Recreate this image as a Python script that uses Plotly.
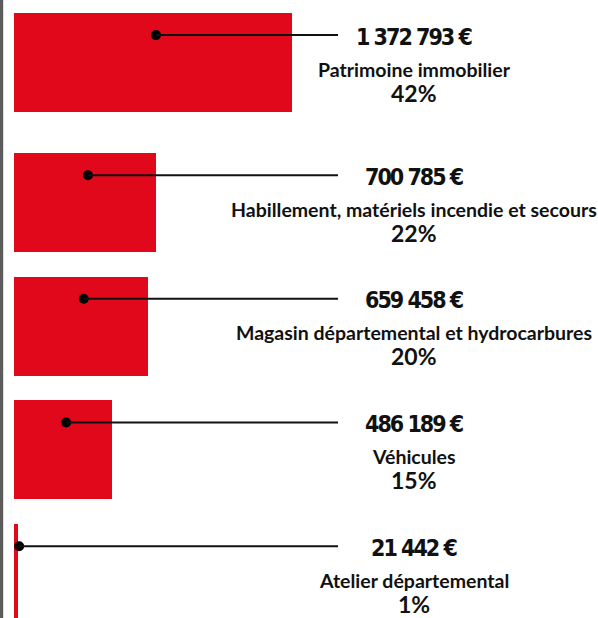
import plotly.graph_objects as go

# Budget lines, amounts in euros, and their share of the total
categories = [
    "Patrimoine immobilier",
    "Habillement, matériels incendie et secours",
    "Magasin départemental et hydrocarbures",
    "Véhicules",
    "Atelier départemental",
]
amounts = [1372793, 700785, 659458, 486189, 21442]
shares = ["42%", "22%", "20%", "15%", "1%"]
amount_labels = ["1 372 793 €", "700 785 €", "659 458 €", "486 189 €", "21 442 €"]

# Layout constants
W, H = 598, 618
RED = "#e1081c"
EUR_PER_PX = 1372793 / 278          # horizontal scale
X_LEFT_PX = 14                       # pixel where zero sits
ROW_PX = 123.7                       # vertical step between rows
FIRST_ROW_PX = 62.5                  # centre of the first row
HEADER_GAP = 0.132                   # extra space after the first row
BAR_THICK = 0.80
LEADER_END_PX = 338
TEXT_X_PX = 414

x_min = -X_LEFT_PX * EUR_PER_PX
x_max = (W - X_LEFT_PX) * EUR_PER_PX
y_top = -FIRST_ROW_PX / ROW_PX
y_bot = (H - FIRST_ROW_PX) / ROW_PX

rows = [i + (HEADER_GAP if i > 0 else 0) for i in range(len(categories))]

def px_x(p):
    return (p - X_LEFT_PX) * EUR_PER_PX

def px_dy(p):
    return p / ROW_PX

fig = go.Figure()

fig.add_trace(go.Bar(
    x=amounts, y=rows, orientation="h", width=BAR_THICK,
    marker=dict(color=RED, line=dict(width=0)),
    hoverinfo="skip", showlegend=False,
))

leader_end = px_x(LEADER_END_PX)
dot_x = [a / 2 + 3 * EUR_PER_PX for a in amounts]
dot_y = [r + px_dy(-27.4) for r in rows]

shapes = []
for dx, dy in zip(dot_x, dot_y):
    shapes.append(dict(type="line", xref="x", yref="y", x0=dx, x1=leader_end,
                       y0=dy, y1=dy, line=dict(color="#111111", width=2), layer="above"))
# left frame rule
shapes.append(dict(type="line", xref="paper", yref="paper", x0=1.6 / W, x1=1.6 / W,
                   y0=0, y1=1, line=dict(color="#5c5c5c", width=3.2)))

fig.add_trace(go.Scatter(
    x=dot_x, y=dot_y, mode="markers",
    marker=dict(color="#000000", size=10),
    hoverinfo="skip", showlegend=False,
))

text_x = px_x(TEXT_X_PX)
value_font = dict(family="DejaVu Sans Condensed, Liberation Sans Narrow, sans-serif",
                  size=23, color="#111111", weight="bold")
cat_font = dict(family="Lato, Open Sans, sans-serif", size=19.5, color="#111111", weight="bold")
pct_font = dict(family="Lato, Open Sans, sans-serif", size=23, color="#111111", weight="bold")

annotations = []
for r, lab, cat, pct in zip(rows, amount_labels, categories, shares):
    annotations.append(dict(x=text_x, y=r + px_dy(-26), showarrow=False,
                            text=f'<span style="letter-spacing:-2px">{lab}</span>',
                            xanchor="center", yanchor="middle", font=value_font))
    annotations.append(dict(x=text_x, y=r + px_dy(6.5), text=cat, showarrow=False,
                            xanchor="center", yanchor="middle", font=cat_font))
    annotations.append(dict(x=text_x, y=r + px_dy(30), text=pct, showarrow=False,
                            xanchor="center", yanchor="middle", font=pct_font))

fig.update_layout(
    width=W, height=H,
    margin=dict(l=0, r=0, t=0, b=0),
    paper_bgcolor="white", plot_bgcolor="white",
    xaxis=dict(range=[x_min, x_max], visible=False, fixedrange=True),
    yaxis=dict(range=[y_bot, y_top], visible=False, fixedrange=True),
    shapes=shapes, annotations=annotations,
    bargap=0,
)

fig.write_html("out.html", config={"displayModeBar": False})
